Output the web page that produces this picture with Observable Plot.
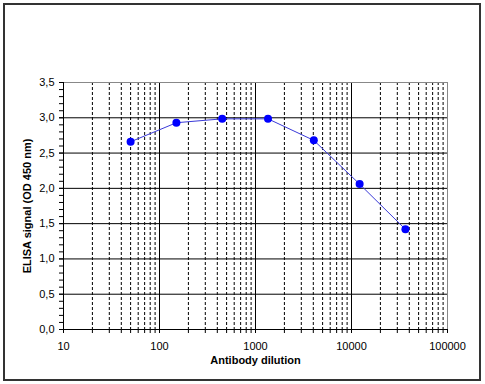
<!DOCTYPE html>
<html><head><meta charset="utf-8">
<script src="https://cdn.jsdelivr.net/npm/d3@7"></script>
<script src="https://cdn.jsdelivr.net/npm/@observablehq/plot@0.6"></script>
<style>
body{margin:0;background:#fff;}
#wrap{position:relative;width:485px;height:384px;overflow:hidden;}
#frame{position:absolute;left:3px;top:3px;width:478px;height:378px;border:2px solid #333;box-sizing:border-box;pointer-events:none;}
</style></head><body><div id="wrap"><div id="frame"></div></div>
<script>
const dilutions = [50, 150, 450, 1350, 4050, 12150, 36450];
const signals = [2.66, 2.93, 2.985, 2.985, 2.68, 2.06, 1.42];
const xTickValues = [10, 100, 1000, 10000, 100000];
const yTickValues = [0, 0.5, 1, 1.5, 2, 2.5, 3, 3.5];
const xLabel = "Antibody dilution";
const yLabel = "ELISA signal (OD 450 nm)";

const decades = [10, 100, 1000, 10000];
const xMinor = decades.flatMap(d => [2,3,4,5,6,7,8,9].map(k => d * k));
const yMinor = d3.range(0, 36).map(i => i / 10);
const data = dilutions.map((d, i) => ({dilution: d, signal: signals[i]}));
const fmt = d => d.toFixed(1).replace(".", ",");

const chart = Plot.plot({
  width: 485,
  height: 384,
  marginLeft: 63,
  marginRight: 38,
  marginTop: 82,
  marginBottom: 55,
  style: {fontFamily: "Arial, 'Liberation Sans', sans-serif", fontSize: "11px", color: "black", background: "transparent"},
  x: {type: "log", domain: [10, 100000]},
  y: {domain: [0, 3.5]},
  marks: [
    Plot.ruleX(xMinor, {stroke: "black", strokeDasharray: "3,2", strokeWidth: 1}),
    Plot.ruleX(xTickValues.slice(1, -1), {stroke: "black"}),
    Plot.ruleY(yTickValues.slice(1, -1), {stroke: "black"}),
    Plot.ruleY(yTickValues.slice(-1), {stroke: "#888"}),
    Plot.ruleX(xTickValues.slice(-1), {stroke: "#888"}),
    Plot.ruleX(xTickValues.slice(0, 1), {stroke: "black"}),
    Plot.ruleY(yTickValues.slice(0, 1), {stroke: "black"}),
    Plot.axisY(yMinor, {tickSize: 4, tickFormat: () => "", label: null}),
    Plot.axisY(yTickValues, {tickSize: 4, tickPadding: 5, tickFormat: fmt, fontSize: 11, label: null}),
    Plot.axisX([...xMinor, ...xTickValues], {tickSize: 4, tickFormat: () => "", label: null}),
    Plot.axisX(xTickValues, {tickSize: 4, tickPadding: 9, tickFormat: d => String(d), fontSize: 11, label: null}),
    Plot.line(data, {x: "dilution", y: "signal", stroke: "#3a3ad8", strokeWidth: 1}),
    Plot.dot(data, {x: "dilution", y: "signal", r: 4, fill: "#0000ff", stroke: "none"}),
    Plot.text([xLabel], {frameAnchor: "bottom", textAnchor: "middle", lineAnchor: "middle", dy: 31, fontWeight: "bold", fontSize: 11, fill: "black"}),
    Plot.text([yLabel], {frameAnchor: "left", textAnchor: "middle", lineAnchor: "middle", rotate: -90, dx: -36, fontWeight: "bold", fontSize: 11, fill: "black"})
  ]
});
document.getElementById("wrap").prepend(chart);
</script>
</body></html>
